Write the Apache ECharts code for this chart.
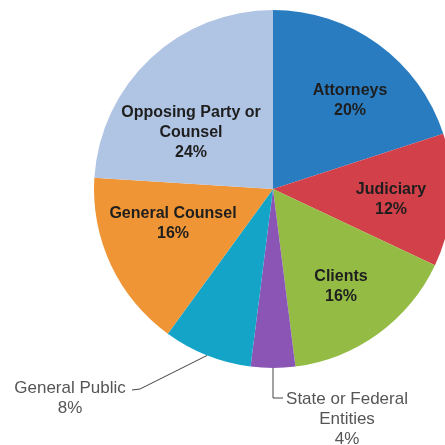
<!DOCTYPE html>
<html>
<head>
<meta charset="utf-8">
<style>
  html, body { margin: 0; padding: 0; background: #fff; }
  #chart { width: 445px; height: 445px; }
</style>
<script src="https://cdn.jsdelivr.net/npm/echarts@6/dist/echarts.min.js"></script>
</head>
<body>
<div id="chart"></div>
<script>
// Share of responses by group, in percent (clockwise from 12 o'clock)
const categories = ['Attorneys', 'Judiciary', 'Clients', 'State or Federal\nEntities',
                    'General Public', 'General Counsel', 'Opposing Party or\nCounsel'];
const shares = [20, 12, 16, 4, 8, 16, 24];
const colors = ['#2a7cc0', '#d2404a', '#94bc45', '#8a55b5', '#13a4c8', '#ef9536', '#b0c4e4'];
// slices whose label sits outside the pie with a leader line
const outsideLabels = ['State or Federal\nEntities', 'General Public'];

// label placement (text-block centres) and leader-line elbows
const labelSpots = {
  'Attorneys': [350, 101],
  'Judiciary': [391, 200],
  'Clients': [341, 287],
  'State or Federal\nEntities': [347, 419],
  'General Public': [70, 398],
  'General Counsel': [173, 224],
  'Opposing Party or\nCounsel': [191, 133]
};
const leaderElbows = {
  'State or Federal\nEntities': [[273, 398], [283, 398]],
  'General Public': [[140, 389], [132, 390]]
};

const FONT = "'Liberation Sans', Arial, sans-serif";

const insideLabel = {
  show: true,
  position: 'inside',
  color: '#1e1e1e',
  fontFamily: FONT,
  fontSize: 16,
  fontWeight: 'bold',
  lineHeight: 20,
  align: 'center'
};
const outsideLabel = {
  show: true,
  position: 'outside',
  color: '#555555',
  fontFamily: FONT,
  fontSize: 17,
  lineHeight: 20,
  align: 'center'
};

const data = categories.map((name, i) => {
  const outside = outsideLabels.includes(name);
  return {
    name: name,
    value: shares[i],
    itemStyle: { color: colors[i] },
    label: outside ? outsideLabel : insideLabel,
    labelLine: outside
      ? { show: true, lineStyle: { color: '#444', width: 1 } }
      : { show: false }
  };
});

const chart = echarts.init(document.getElementById('chart'), null, { renderer: 'canvas' });
chart.setOption({
  backgroundColor: '#ffffff',
  animation: false,
  textStyle: { fontFamily: FONT },
  series: [{
    type: 'pie',
    center: [273, 189],
    radius: 179,
    startAngle: 90,
    clockwise: true,
    avoidLabelOverlap: false,
    itemStyle: { borderWidth: 0 },
    label: { formatter: p => p.name + '\n' + p.value + '%' },
    labelLayout: function (params) {
      const name = categories[params.dataIndex];
      const spot = labelSpots[name];
      const out = { x: spot[0], y: spot[1], align: 'center', verticalAlign: 'middle' };
      if (leaderElbows[name] && params.labelLinePoints) {
        const edge = params.labelLinePoints[0];
        out.labelLinePoints = [edge].concat(leaderElbows[name]);
      }
      return out;
    },
    data: data
  }]
});
</script>
</body>
</html>
